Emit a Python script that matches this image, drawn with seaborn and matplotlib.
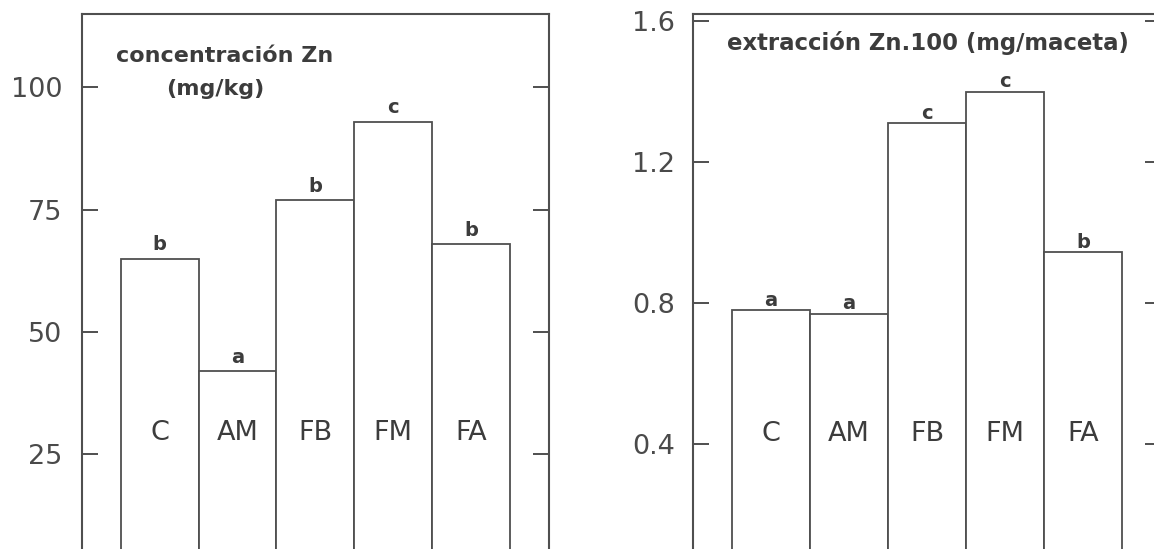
import matplotlib
matplotlib.use("Agg")
import matplotlib.pyplot as plt
import matplotlib.transforms as mtransforms
import seaborn as sns
import pandas as pd

# Treatments and Zn results
treatments = ["C", "AM", "FB", "FM", "FA"]

zn_concentration = [65, 42, 77, 93, 68]            # mg/kg
zn_concentration_groups = ["b", "a", "b", "c", "b"]

zn_extraction = [0.78, 0.77, 1.31, 1.40, 0.945]    # mg/maceta (x100)
zn_extraction_groups = ["a", "a", "c", "c", "b"]

conc_ticks = [25, 50, 75, 100]
conc_tick_labels = ["25", "50", "75", "100"]
extr_ticks = [0.4, 0.8, 1.2, 1.6]
extr_tick_labels = ["0.4", "0.8", "1.2", "1.6"]

LINE = "#4f4f4f"
TEXT = "#3c3c3c"
W, H = 1154, 549

sns.set_style("white")
plt.rcParams["font.family"] = ["DejaVu Sans"]

fig = plt.figure(figsize=(W / 100, H / 100), dpi=100)
fig.patch.set_facecolor("white")


def fig_xy(x, y):
    return x / W, 1 - y / H


def panel(rect, values, groups, ticks, tick_labels, ylim, label_frac,
          letter_offset, pad):
    ax = fig.add_axes(rect)
    df = pd.DataFrame({"tratamiento": treatments, "valor": values})
    sns.barplot(data=df, x="tratamiento", y="valor", order=treatments,
                color="white", saturation=1, width=1.0, edgecolor=LINE,
                linewidth=1.3, errorbar=None, ax=ax)
    ax.set_xlim(-1.0, 5.0)
    ax.set_ylim(*ylim)
    ax.set_xticks([])
    ax.set_yticks(ticks, tick_labels)
    ax.set_xlabel("")
    ax.set_ylabel("")
    ax.tick_params(axis="y", direction="in", length=11.3, width=1.4,
                   color=LINE, left=True, right=True, labelleft=True,
                   labelright=False, labelsize=19.5, labelcolor="#4a4a4a",
                   pad=pad)
    for s in ax.spines.values():
        s.set_visible(True)
        s.set_linewidth(1.5)
        s.set_color(LINE)
    trans = mtransforms.blended_transform_factory(ax.transData, ax.transAxes)
    for i, (v, g) in enumerate(zip(values, groups)):
        ax.annotate(g, (i, v), xytext=(0, letter_offset),
                    textcoords="offset points", ha="center", va="baseline",
                    fontsize=14, fontweight="bold", color=TEXT)
        ax.text(i, label_frac, treatments[i], transform=trans, ha="center",
                va="center", fontsize=19.5, color=TEXT)
    return ax


ax1 = panel([0.07080, -0.05009, 0.40494, 1.02459], zn_concentration,
            zn_concentration_groups, conc_ticks, conc_tick_labels, (0, 115),
            0.2551, 6, 14)
ax2 = panel([0.60026, -0.06576, 0.40607, 1.04026], zn_extraction,
            zn_extraction_groups, extr_ticks, extr_tick_labels, (0, 1.62),
            0.2646, 3, 12.5)

fig.text(*fig_xy(225, 62), "concentración Zn", ha="center", va="baseline",
         fontsize=16, fontweight="bold", color=TEXT)
fig.text(*fig_xy(215, 95), "(mg/kg)", ha="center", va="baseline",
         fontsize=16, fontweight="bold", color=TEXT)
fig.text(*fig_xy(927.5, 50), "extracción Zn.100 (mg/maceta)", ha="center",
         va="baseline", fontsize=16.4, fontweight="bold", color=TEXT)

fig.savefig("out.png", dpi=100, facecolor="white")
